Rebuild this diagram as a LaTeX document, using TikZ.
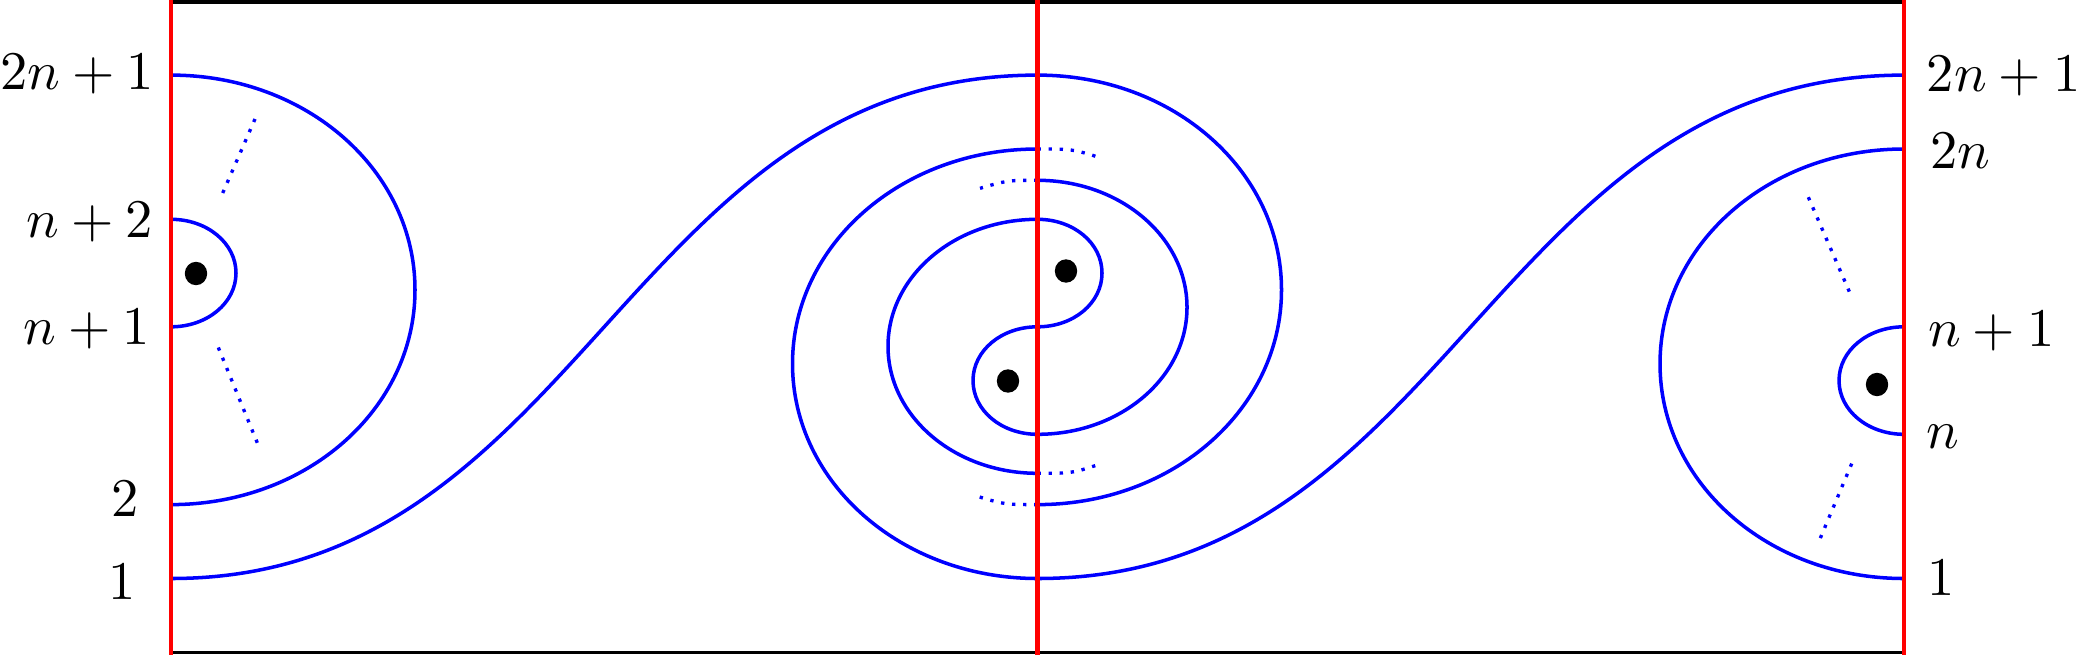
\documentclass[tikz,border=0pt]{standalone}
\begin{document}
\begin{tikzpicture}[
  bl/.style={draw=blue, line width=1.0pt},
  rd/.style={draw=red, line width=1.25pt},
  fr/.style={draw=black, line width=1.1pt},
  dots/.style={draw=blue, line width=0.95pt, dash pattern=on 0.95pt off 2.2pt},
  pt/.style={fill=black, draw=none},
  lab/.style={inner sep=0pt, scale=1.55}
]
\useasboundingbox (0,0) rectangle (20.79,-6.55);
% levels
\def\yA{0.751}\def\yB{1.490}\def\yC{1.803}\def\yD{2.193}\def\yE{3.268}
\def\yF{4.343}\def\yG{4.733}\def\yH{5.046}\def\yI{5.785}
\def\xL{1.71}\def\xM{10.375}\def\xR{19.04}
% left side points
\coordinate (LA) at (\xL,-\yA);
\coordinate (LD) at (\xL,-\yD);
\coordinate (LE) at (\xL,-\yE);
\coordinate (LH) at (\xL,-\yH);
\coordinate (LI) at (\xL,-\yI);
\coordinate (LinX) at (\xL+0.65,-2.7305);
\coordinate (LoutX) at (\xL+2.44,-2.8985);
% middle points
\coordinate (MA) at (\xM,-\yA);
\coordinate (MB) at (\xM,-\yB);
\coordinate (MC) at (\xM,-\yC);
\coordinate (MD) at (\xM,-\yD);
\coordinate (ME) at (\xM,-\yE);
\coordinate (MF) at (\xM,-\yF);
\coordinate (MG) at (\xM,-\yG);
\coordinate (MH) at (\xM,-\yH);
\coordinate (MI) at (\xM,-\yI);
\coordinate (MoR) at (\xM+2.44,-2.8985);
\coordinate (MoL) at (\xM-2.45,-3.6375);
\coordinate (MmR) at (\xM+1.495,-3.073);
\coordinate (MmL) at (\xM-1.495,-3.463);
\coordinate (MsR) at (\xM+0.645,-2.7305);
\coordinate (MsL) at (\xM-0.645,-3.8055);
% right points
\coordinate (RA) at (\xR,-\yA);
\coordinate (RB) at (\xR,-\yB);
\coordinate (RE) at (\xR,-\yE);
\coordinate (RF) at (\xR,-\yF);
\coordinate (RI) at (\xR,-\yI);
\coordinate (RinX) at (\xR-0.65,-3.8055);
\coordinate (RoutX) at (\xR-2.44,-3.6375);

% left arcs
\path[bl] (LD) .. controls +(0.36,0) and +(0,0.30) .. (LinX)
          .. controls +(0,-0.30) and +(0.36,0) .. (LE);
\path[bl] (LA) .. controls +(1.36,0) and +(0,1.19) .. (LoutX)
          .. controls +(0,-1.19) and +(1.36,0) .. (LH);
% S-curve left to middle, then outer right arc
\path[bl] (LI) .. controls +(4.1,0) and +(-4.1,0) .. (MA)
          .. controls +(1.36,0) and +(0,1.19) .. (MoR)
          .. controls +(0,-1.19) and +(1.36,0) .. (MH);
% S-curve right to middle, then outer left arc
\path[bl] (RA) .. controls +(-4.1,0) and +(4.1,0) .. (MI)
          .. controls +(-1.36,0) and +(0,-1.19) .. (MoL)
          .. controls +(0,1.19) and +(-1.36,0) .. (MB);
% inner spiral
\path[bl] (MC) .. controls +(0.83,0) and +(0,0.70) .. (MmR)
          .. controls +(0,-0.70) and +(0.83,0) .. (MF)
          .. controls +(-0.36,0) and +(0,-0.30) .. (MsL)
          .. controls +(0,0.30) and +(-0.36,0) .. (ME)
          .. controls +(0.36,0) and +(0,-0.30) .. (MsR)
          .. controls +(0,0.30) and +(0.36,0) .. (MD)
          .. controls +(-0.83,0) and +(0,0.70) .. (MmL)
          .. controls +(0,-0.70) and +(-0.83,0) .. (MG);
% right arcs
\path[bl] (RE) .. controls +(-0.36,0) and +(0,0.30) .. (RinX)
          .. controls +(0,-0.30) and +(-0.36,0) .. (RF);
\path[bl] (RB) .. controls +(-1.36,0) and +(0,1.19) .. (RoutX)
          .. controls +(0,-1.19) and +(-1.36,0) .. (RI);

% dotted continuations, middle
\coordinate (d1) at (11.02,-1.583);
\coordinate (d2) at (9.80,-1.883);
\coordinate (d3) at (11.02,-4.633);
\coordinate (d4) at (9.73,-4.95);
\path[dots] (MB) .. controls +(0.35,0) .. (d1);
\path[dots] (MC) .. controls +(-0.30,0) .. (d2);
\path[dots] (MG) .. controls +(0.35,0) .. (d3);
\path[dots] (MH) .. controls +(-0.33,0) .. (d4);
% dotted lines, sides
\coordinate (e1) at (2.227,-1.93); \coordinate (e2) at (2.55,-1.19);
\coordinate (e3) at (2.183,-3.475); \coordinate (e4) at (2.573,-4.428);
\coordinate (f1) at (18.083,-1.972); \coordinate (f2) at (18.493,-2.916);
\coordinate (f3) at (18.517,-4.636); \coordinate (f4) at (18.20,-5.388);
\path[dots] (e1) -- (e2);
\path[dots] (e3) -- (e4);
\path[dots] (f1) -- (f2);
\path[dots] (f3) -- (f4);

% punctures
\path[pt] (1.96,-2.735) ellipse [x radius=0.112, y radius=0.117];
\path[pt] (10.66,-2.71) ellipse [x radius=0.112, y radius=0.117];
\path[pt] (10.08,-3.81) ellipse [x radius=0.112, y radius=0.117];
\path[pt] (18.77,-3.845) ellipse [x radius=0.112, y radius=0.117];

% frame
\coordinate (TL) at (\xL,-0.022); \coordinate (TR) at (\xR,-0.022);
\coordinate (BL) at (\xL,-6.525); \coordinate (BR) at (\xR,-6.525);
\coordinate (TM) at (\xM,0); \coordinate (BM) at (\xM,-6.55);
\coordinate (TLr) at (\xL,0); \coordinate (BLr) at (\xL,-6.55);
\coordinate (TRr) at (\xR,0); \coordinate (BRr) at (\xR,-6.55);
\path[fr] (TL) -- (TR);
\path[fr] (BL) -- (BR);
\path[rd] (TLr) -- (BLr);
\path[rd] (TM) -- (BM);
\path[rd] (TRr) -- (BRr);

% labels left
\node[lab, anchor=base east] (l2n1) at (1.55,-0.898) {$2n+1$};
\node[lab, anchor=base east] (ln2) at (1.54,-2.37) {$n+2$};
\node[lab, anchor=base east] (ln1) at (1.51,-3.446) {$n+1$};
\node[lab, anchor=base east] (l2) at (1.40,-5.167) {$2$};
\node[lab, anchor=base east] (l1) at (1.37,-5.994) {$1$};
% labels right
\node[lab, anchor=base west] (r2n1) at (19.257,-0.91) {$2n+1$};
\node[lab, anchor=base west] (r2n) at (19.29,-1.683) {$2n$};
\node[lab, anchor=base west] (rn1) at (19.27,-3.467) {$n+1$};
\node[lab, anchor=base west] (rn) at (19.25,-4.482) {$n$};
\node[lab, anchor=base west] (r1) at (19.26,-5.952) {$1$};
\end{tikzpicture}
\end{document}
